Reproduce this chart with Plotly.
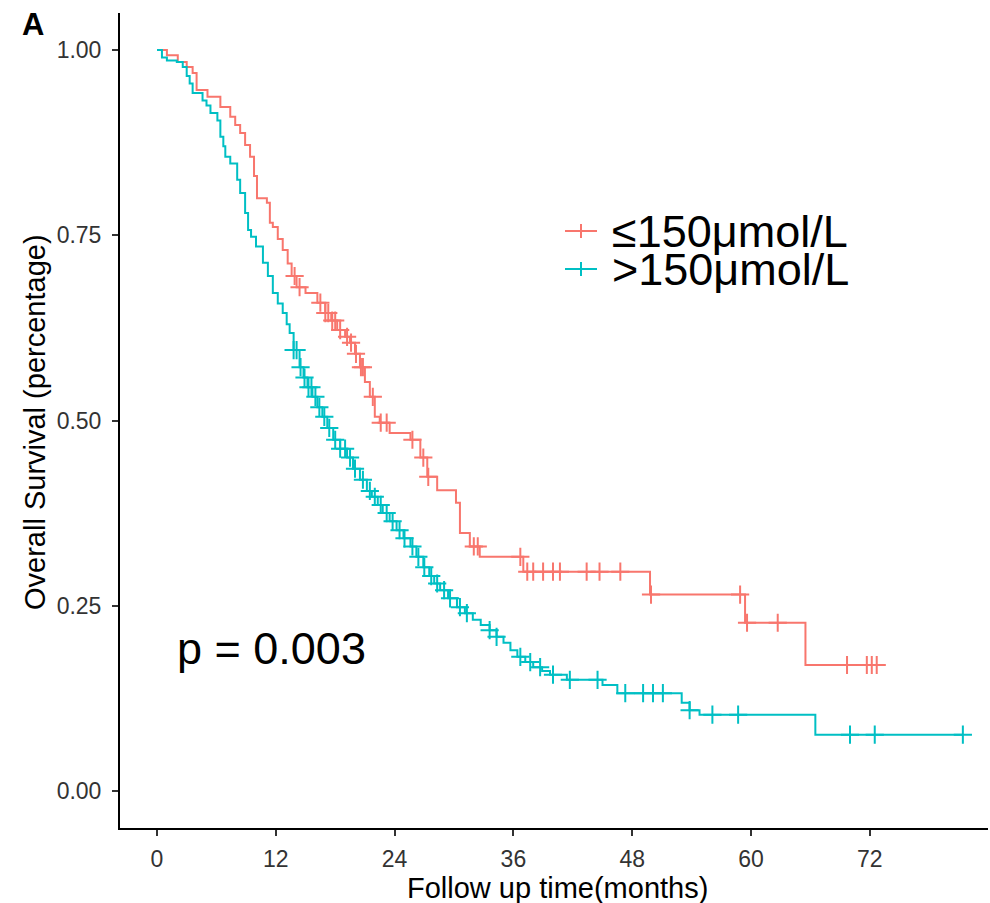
import numpy as np
import plotly.graph_objects as go

# ---------------- data ----------------
groups = ["≤150μmol/L", ">150μmol/L"]
colors = ["#F8766D", "#00BFC4"]

low_time = [0, 1.0, 2.1, 3.0, 3.6, 4.0, 5.1, 6.4, 7.4, 7.9, 8.4, 8.9, 9.4, 9.8, 10.1,
            11.1, 11.4, 11.7, 12.2, 12.7, 13.2, 13.6, 14.1, 15.0, 16.2, 17.0, 17.6,
            18.2, 19.0, 19.5, 20.0, 20.5, 21.0, 21.5, 22.0, 22.5, 23.5, 25.6, 26.6,
            27.3, 28.3, 30.2, 30.6, 31.6, 32.6, 37.0, 49.8, 59.4, 65.5]
low_surv = [1.0, 0.993, 0.984, 0.977, 0.969, 0.946, 0.937, 0.923, 0.910, 0.899, 0.888,
            0.872, 0.856, 0.830, 0.800, 0.794, 0.767, 0.761, 0.745, 0.730, 0.712, 0.695,
            0.680, 0.672, 0.659, 0.645, 0.635, 0.622, 0.613, 0.605, 0.590, 0.572, 0.552,
            0.532, 0.505, 0.497, 0.483, 0.474, 0.450, 0.424, 0.406, 0.389, 0.348, 0.330,
            0.316, 0.296, 0.265, 0.227, 0.170]
low_censor = [13.9, 14.4, 16.5, 17.0, 17.3, 17.7, 18.0, 18.5, 19.2, 19.6, 20.1, 20.6,
              20.8, 21.8, 22.6, 23.2, 25.8, 26.9, 27.4, 32.0, 32.4, 36.7, 37.4, 38.0,
              39.0, 40.0, 40.7, 43.4, 44.7, 46.8, 49.9, 58.9, 59.6, 62.7, 69.7, 71.7,
              72.2, 72.7]

high_time = [0, 0.5, 1.0, 2.0, 2.6, 3.0, 3.3, 3.6, 4.6, 5.0, 5.4, 6.1, 6.4, 6.7, 6.9,
             7.4, 8.1, 8.4, 8.9, 9.2, 9.5, 10.0, 10.7, 11.2, 11.7, 12.2, 12.7, 13.1,
             13.4, 13.8, 14.4, 14.8, 15.2, 15.7, 16.2, 16.7, 17.2, 17.8, 18.5, 19.2,
             19.8, 20.5, 21.2, 21.7, 22.3, 22.8, 23.5, 24.2, 24.9, 25.6, 26.2, 26.9,
             27.5, 28.0, 28.6, 29.4, 30.3, 31.1, 31.9, 32.7, 33.6, 34.3, 35.0, 35.7,
             36.4, 37.2, 38.0, 38.9, 39.7, 41.4, 45.0, 46.5, 53.0, 53.8, 54.8, 66.5]
high_surv = [1.0, 0.990, 0.986, 0.984, 0.977, 0.965, 0.955, 0.942, 0.932, 0.925, 0.915,
             0.905, 0.883, 0.870, 0.856, 0.847, 0.825, 0.807, 0.780, 0.757, 0.748, 0.735,
             0.713, 0.695, 0.672, 0.658, 0.645, 0.630, 0.618, 0.595, 0.572, 0.558, 0.545,
             0.532, 0.518, 0.505, 0.490, 0.474, 0.462, 0.450, 0.435, 0.420, 0.405, 0.397,
             0.386, 0.375, 0.364, 0.352, 0.341, 0.330, 0.316, 0.302, 0.290, 0.280, 0.271,
             0.260, 0.248, 0.240, 0.231, 0.224, 0.217, 0.208, 0.200, 0.190, 0.181, 0.174,
             0.167, 0.162, 0.157, 0.150, 0.143, 0.132, 0.119, 0.109, 0.103, 0.076]
high_censor = [13.8, 14.1, 14.5, 14.9, 15.3, 15.6, 16.0, 16.4, 16.9, 17.4, 18.0, 18.5,
               19.0, 19.5, 20.0, 20.8, 21.5, 22.0, 22.6, 23.2, 23.8, 24.5, 25.0, 25.8,
               26.4, 27.0, 27.7, 28.3, 29.0, 29.6, 30.6, 31.3, 33.6, 34.3, 36.7, 37.7,
               38.7, 40.0, 41.7, 44.5, 47.3, 49.1, 50.1, 51.1, 53.8, 56.1, 58.7, 70.0,
               72.5, 81.4]

x_ticks = [0, 12, 24, 36, 48, 60, 72]
y_ticks = [0.00, 0.25, 0.50, 0.75, 1.00]
y_tick_text = ["0.00", "0.25", "0.50", "0.75", "1.00"]
p_text = "p = 0.003"

# ---------------- figure ----------------
FONT = "Arial, Liberation Sans, sans-serif"
fig = go.Figure()

series = [(low_time, low_surv, low_censor), (high_time, high_surv, high_censor)]
for (t, s, c), col, name in zip(series, colors, groups):
    t = np.array(t, float)
    s = np.array(s, float)
    c = np.array(c, float)
    end = max(t[-1], c.max())
    fig.add_trace(go.Scatter(
        x=np.append(t, end), y=np.append(s, s[-1]), mode="lines",
        line=dict(color=col, width=2, shape="hv"), name=name,
        showlegend=False, hoverinfo="skip"))
    idx = np.searchsorted(t, c, side="right") - 1
    fig.add_trace(go.Scatter(
        x=c, y=s[idx], mode="markers",
        marker=dict(symbol="cross-thin", size=13, color=col,
                    line=dict(color=col, width=2)),
        showlegend=False, hoverinfo="skip"))

W, H = 990, 903
L, R, T, B = 120, 2, 13, 75
pw, ph = W - L - R, H - T - B
x0_px, px_per_month = 157, 9.9
x_range = [(L - x0_px) / px_per_month, (L + pw - x0_px) / px_per_month]


def px2paper(px, py):
    return (px - L) / pw, 1 - (py - T) / ph


annotations = []
# legend (manual)
for i, (name, col) in enumerate(zip(groups, colors)):
    cy = 231 + 38 * i
    xa, ya = px2paper(565, cy)
    xb, _ = px2paper(597, cy)
    xm, _ = px2paper(581, cy)
    _, yt = px2paper(581, cy - 7)
    _, yb = px2paper(581, cy + 7)
    fig.add_shape(type="line", xref="paper", yref="paper", x0=xa, x1=xb, y0=ya, y1=ya,
                  line=dict(color=col, width=2))
    fig.add_shape(type="line", xref="paper", yref="paper", x0=xm, x1=xm, y0=yb, y1=yt,
                  line=dict(color=col, width=2))
    tx, ty = px2paper(610, cy)
    annotations.append(dict(x=tx, y=ty, xref="paper", yref="paper", text=name,
                            showarrow=False, xanchor="left", yanchor="middle",
                            font=dict(family=FONT, size=45, color="black")))

# axis titles, panel tag, p-value
xt, yt = px2paper(557, 888)
annotations.append(dict(x=xt, y=yt, xref="paper", yref="paper",
                        text="Follow up time(months)", showarrow=False,
                        xanchor="center", yanchor="middle",
                        font=dict(family=FONT, size=29, color="black")))
xt, yt = px2paper(35, 422)
annotations.append(dict(x=xt, y=yt, xref="paper", yref="paper",
                        text="Overall Survival (percentage)", showarrow=False,
                        textangle=-90, xanchor="center", yanchor="middle",
                        font=dict(family=FONT, size=29, color="black")))
xt, yt = px2paper(33, 24)
annotations.append(dict(x=xt, y=yt, xref="paper", yref="paper", text="<b>A</b>",
                        showarrow=False, xanchor="center", yanchor="middle",
                        font=dict(family=FONT, size=31, color="black")))
annotations.append(dict(x=1.8, y=0.192, xref="x", yref="y", text=p_text,
                        showarrow=False, xanchor="left", yanchor="middle",
                        font=dict(family=FONT, size=45, color="black")))

fig.update_layout(
    width=W, height=H, margin=dict(l=L, r=R, t=T, b=B, autoexpand=False),
    paper_bgcolor="white", plot_bgcolor="white", showlegend=False,
    annotations=annotations,
    xaxis=dict(range=x_range, tickvals=x_ticks, showgrid=False, zeroline=False,
               showline=True, linecolor="black", linewidth=2,
               ticks="outside", ticklen=6, tickwidth=2, tickcolor="#333",
               tickfont=dict(family=FONT, size=23, color="#333"),
               ticklabelstandoff=3),
    yaxis=dict(range=[-0.05, 1.05], tickvals=y_ticks, ticktext=y_tick_text,
               showgrid=False, zeroline=False,
               showline=True, linecolor="black", linewidth=2,
               ticks="outside", ticklen=6, tickwidth=2, tickcolor="#333",
               tickfont=dict(family=FONT, size=23, color="#333"),
               ticklabelstandoff=6),
)

fig.write_html("out.html")
